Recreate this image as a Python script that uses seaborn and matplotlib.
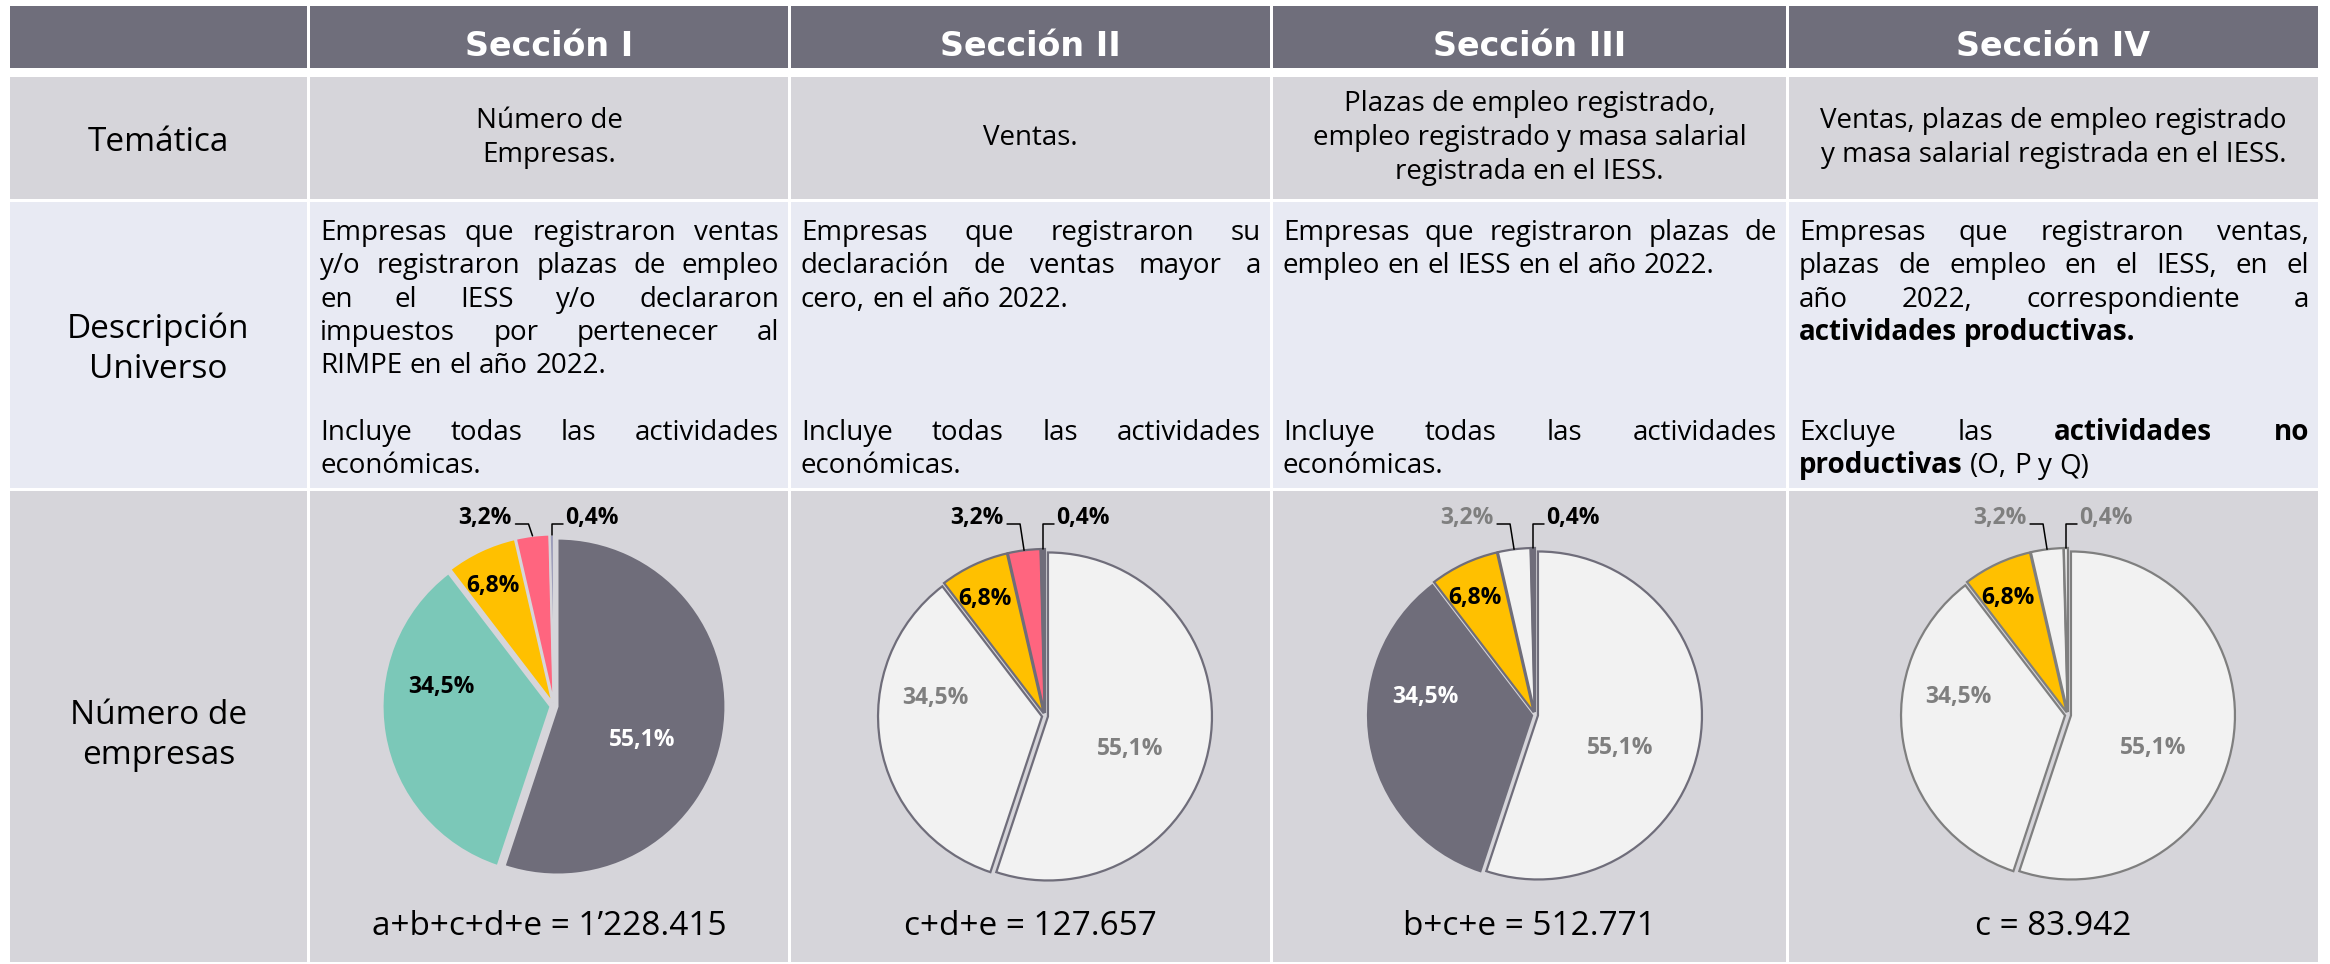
import numpy as np
import pandas as pd
import matplotlib
matplotlib.use("Agg")
import matplotlib.pyplot as plt
from matplotlib.patches import Rectangle
import seaborn as sns

# ---------------- data ----------------
sections = ["Sección I", "Sección II", "Sección III", "Sección IV"]
row_labels = [["Temática"], ["Descripción", "Universo"], ["Número de", "empresas"]]
tematica = [
    ["Número de", "Empresas."],
    ["Ventas."],
    ["Plazas de empleo registrado,", "empleo registrado y masa salarial", "registrada en el IESS."],
    ["Ventas, plazas de empleo registrado", "y masa salarial registrada en el IESS."],
]
descripcion = [
    [["Empresas que registraron ventas", "y/o registraron plazas de empleo", "en el IESS y/o declararon",
      "impuestos por pertenecer al", "RIMPE en el año 2022."],
     ["Incluye todas las actividades", "económicas."]],
    [["Empresas que registraron su", "declaración de ventas mayor a", "cero, en el año 2022."],
     ["Incluye todas las actividades", "económicas."]],
    [["Empresas que registraron plazas de", "empleo en el IESS en el año 2022."],
     ["Incluye todas las actividades", "económicas."]],
    [["Empresas que registraron ventas,", "plazas de empleo en el IESS, en el", "año 2022, correspondiente a",
      "**actividades** **productivas.**"],
     ["Excluye las **actividades** **no**", "**productivas** (O, P y Q)"]],
]
share_values = [55.1, 34.5, 6.8, 3.2, 0.4]
totals = ["a+b+c+d+e = 1\u2019228.415", "c+d+e = 127.657", "b+c+e = 512.771", "c = 83.942"]

# ---------------- style ----------------
DARK = "#6F6D7A"
LIGHT = "#F2F2F2"
GRAY = "#7F7F7F"
TEAL = "#7BC8B8"
YEL = "#FFC000"
PINK = "#FF657F"
LAV = "#9B9CB9"
wedge_colors = [
    [DARK, TEAL, YEL, PINK, LAV],
    [LIGHT, LIGHT, YEL, PINK, DARK],
    [LIGHT, DARK, YEL, LIGHT, DARK],
    [LIGHT, LIGHT, YEL, LIGHT, LIGHT],
]
edge_colors = ["#D6D5DA", DARK, DARK, GRAY]
edge_lw = [1.5, 1.6, 1.6, 1.6]
label_colors = [
    ["white", "black", "black", "black", "black"],
    [GRAY, GRAY, "black", "black", "black"],
    [GRAY, "white", "black", GRAY, "black"],
    [GRAY, GRAY, "black", GRAY, GRAY],
]

W, H, DPI = 2330, 964, 100
COL_EDGES = [(10, 307), (310, 788), (791, 1270), (1273, 1786), (1789, 2318)]
ROW_EDGES = [(6, 68), (77, 199), (202, 488), (491, 962)]
ROW_COLORS = ["#6F6E7B", "#D6D5DA", "#E8EAF3", "#D6D5DA"]
PIE_CENTERS = [(554, 706), (1045, 716), (1535, 715), (2068, 715)]
PIE_RADII = [168, 164, 164, 164]
EXPLODE = [3.5, 3.0, 3.0, 3.0]
LABEL_SHIFT = [-12, -19, 2]
LABEL_DIST = [0.56, 0.68, 0.80]
PIE_FS = 16.5

sns.set_theme(style="white")
plt.rcParams["font.family"] = ["Open Sans", "DejaVu Sans"]

BODY = 20
fig = plt.figure(figsize=(W / DPI, H / DPI), dpi=DPI, facecolor="white")
ax = fig.add_axes([0, 0, 1, 1])
ax.set_xlim(0, W)
ax.set_ylim(0, H)


def Y(y):
    return H - y


# backgrounds
for (t, b), colr in zip(ROW_EDGES, ROW_COLORS):
    for (l, r) in COL_EDGES:
        ax.add_patch(Rectangle((l, Y(b)), r - l, b - t, facecolor=colr, lw=0, zorder=0))

# header texts
for k, s in enumerate(sections):
    l, r = COL_EDGES[k + 1]
    ax.text((l + r) / 2, Y(56), s, ha="center", va="baseline", fontsize=24, color="white",
            fontweight="bold", family=["DejaVu Sans"])


def centered_lines(lines, xc, cap_center, step, size=BODY):
    n = len(lines)
    off = 10 * size / BODY
    for i, s in enumerate(lines):
        base = cap_center + off + (i - (n - 1) / 2) * step
        ax.text(xc, Y(base), s, ha="center", va="baseline", fontsize=size, color="black")


# left labels
l0, r0 = COL_EDGES[0]
centered_lines(row_labels[0], (l0 + r0) / 2, 139, 38, size=24)
centered_lines(row_labels[1], (l0 + r0) / 2, 346, 39, size=24)
centered_lines(row_labels[2], (l0 + r0) / 2, 732, 39, size=24)

# tematica row
for k, lines in enumerate(tematica):
    l, r = COL_EDGES[k + 1]
    centered_lines(lines, (l + r) / 2, 135, 34)

# ---------- justified description text ----------
fig.canvas.draw()
renderer = fig.canvas.get_renderer()


def measure(s, bold, size):
    t = ax.text(0, 0, s, fontsize=size, fontweight="bold" if bold else "normal")
    w = t.get_window_extent(renderer=renderer).width
    t.remove()
    return w


def parse(line):
    out = []
    for wd in line.split(" "):
        if wd.startswith("**") and wd.endswith("**"):
            out.append((wd[2:-2], True))
        else:
            out.append((wd, False))
    return out


def draw_line(line, x0, x1, base, justify, size=BODY):
    words = parse(line)
    space = measure("a a", False, size) - measure("aa", False, size)
    widths = [measure(w, b, size) for w, b in words]
    avail = x1 - x0
    n = len(words)
    total = sum(widths)
    if total + (n - 1) * space * 0.6 > avail:
        f = avail / (total + (n - 1) * space * 0.6)
        size = size * f
        widths = [w * f for w in widths]
        space *= f
        total = sum(widths)
    if justify and n > 1:
        gap = (avail - total) / (n - 1)
    else:
        gap = space
    x = x0
    for (w, b), wd in zip(words, widths):
        ax.text(x, Y(base), w, ha="left", va="baseline", fontsize=size, color="black",
                fontweight="bold" if b else "normal")
        x += wd + gap


LINE0, STEP = 240, 33.3
for k, paras in enumerate(descripcion):
    l, r = COL_EDGES[k + 1]
    x0, x1 = l + 10, r - 9
    for p, lines in enumerate(paras):
        start = 0 if p == 0 else 6
        for i, line in enumerate(lines):
            draw_line(line, x0, x1, LINE0 + (start + i) * STEP, justify=(i < len(lines) - 1))

# ---------- pies ----------
def fmt(v):
    return f"{v:.1f}".replace(".", ",") + "%"


OUT_Y = 518
for k in range(4):
    cx, cy = PIE_CENTERS[k]
    wedges, _ = ax.pie(share_values, colors=wedge_colors[k], startangle=90, counterclock=False,
                       radius=PIE_RADII[k], center=(cx, Y(cy)), explode=[EXPLODE[k]] * 5,
                       wedgeprops=dict(edgecolor=edge_colors[k], linewidth=edge_lw[k]))
    for i, (w, v) in enumerate(zip(wedges, share_values)):
        mid = np.deg2rad((w.theta1 + w.theta2) / 2)
        wx, wy = w.center
        r = w.r
        col = label_colors[k][i]
        if v >= 5:
            ang = mid + np.deg2rad(LABEL_SHIFT[i])
            d = LABEL_DIST[i] * r
            ax.text(cx + d * np.cos(ang), Y(cy) + d * np.sin(ang), fmt(v), ha="center", va="center",
                    fontsize=PIE_FS, fontweight="bold", color=col, zorder=5)
        else:
            px, py = wx + r * np.cos(mid), wy + r * np.sin(mid)
            ly = Y(OUT_Y + 6)
            if np.cos(mid) < -0.05:
                ax.plot([px, px - 4, px - 17], [py, ly, ly], color="black", lw=1.1, zorder=5)
                ax.text(px - 21, Y(OUT_Y), fmt(v), ha="right", va="center", fontsize=PIE_FS,
                        fontweight="bold", color=col, zorder=5)
            else:
                ax.plot([px, px, px + 11], [py, ly, ly], color="black", lw=1.1, zorder=5)
                ax.text(px + 13, Y(OUT_Y), fmt(v), ha="left", va="center", fontsize=PIE_FS,
                        fontweight="bold", color=col, zorder=5)
    l, r = COL_EDGES[k + 1]
    ax.text((l + r) / 2, Y(935), totals[k], ha="center", va="baseline", fontsize=24, color="black")

ax.set_xlim(0, W)
ax.set_ylim(0, H)
ax.set_aspect("auto")
ax.axis("off")
fig.savefig("out.png", dpi=DPI, facecolor="white")
